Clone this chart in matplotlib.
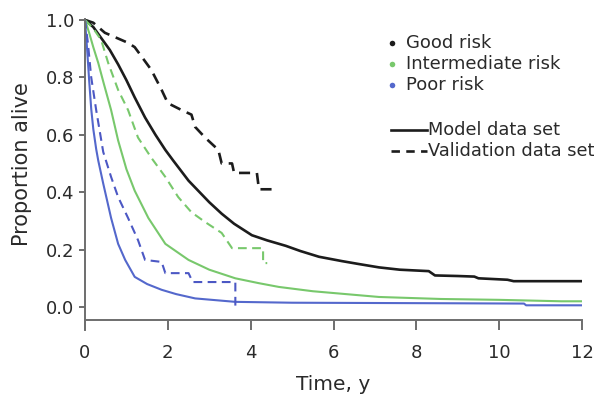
import matplotlib
matplotlib.use("Agg")
import matplotlib.pyplot as plt
from matplotlib.lines import Line2D

plt.rcParams['font.family'] = ['DejaVu Sans']

# ---- data ----
good_model_t = [0, 0.2, 0.4, 0.6, 0.8, 1.0, 1.2, 1.45, 1.7, 1.94, 2.13, 2.5, 2.8, 3.0, 3.3, 3.6,
                4.03, 4.4, 4.85, 5.2, 5.65, 6.2, 6.6, 7.1, 7.6, 8.3, 8.45, 9.0, 9.4, 9.5, 10.2,
                10.35, 12]
good_model_p = [1.0, 0.975, 0.935, 0.895, 0.845, 0.79, 0.73, 0.66, 0.60, 0.547, 0.51, 0.44, 0.395,
                0.365, 0.325, 0.29, 0.25, 0.232, 0.213, 0.195, 0.175, 0.16, 0.15, 0.138, 0.13,
                0.125, 0.11, 0.108, 0.106, 0.10, 0.095, 0.09, 0.09]

good_val_t = [0, 0.2, 0.48, 1.04, 1.2, 1.6, 1.85, 2.0, 2.33, 2.57, 2.66, 2.9, 3.22, 3.3, 3.55,
              3.6, 4.15, 4.2, 4.6]
good_val_p = [1.0, 0.99, 0.955, 0.92, 0.905, 0.826, 0.756, 0.71, 0.686, 0.67, 0.627, 0.59, 0.547,
              0.50, 0.50, 0.467, 0.467, 0.41, 0.41]

int_model_t = [0, 0.1, 0.2, 0.32, 0.45, 0.63, 0.8, 1.0, 1.2, 1.53, 1.94, 2.5, 3.0, 3.63, 4.2,
               4.68, 5.5, 6.3, 7.1, 8.6, 10, 11.5, 12]
int_model_p = [1.0, 0.955, 0.905, 0.85, 0.78, 0.686, 0.58, 0.48, 0.405, 0.31, 0.22, 0.164, 0.13,
               0.10, 0.083, 0.07, 0.055, 0.045, 0.035, 0.028, 0.025, 0.02, 0.02]

int_val_t = [0, 0.2, 0.39, 0.56, 0.8, 1.04, 1.28, 1.6, 1.94, 2.25, 2.57, 2.9, 3.3, 3.55, 4.3, 4.3, 4.4]
int_val_p = [1.0, 0.97, 0.93, 0.85, 0.756, 0.686, 0.59, 0.52, 0.453, 0.383, 0.33, 0.296, 0.258,
             0.205, 0.205, 0.153, 0.153]

poor_model_t = [0, 0.05, 0.1, 0.15, 0.2, 0.27, 0.32, 0.44, 0.63, 0.8, 0.97, 1.2, 1.5, 1.85, 2.2,
                2.66, 3.63, 5, 7, 9, 10.6, 10.65, 12]
poor_model_p = [1.0, 0.9, 0.79, 0.69, 0.62, 0.55, 0.51, 0.43, 0.31, 0.22, 0.164, 0.105, 0.08, 0.06,
                0.045, 0.03, 0.018, 0.015, 0.014, 0.013, 0.012, 0.006, 0.006]

poor_val_t = [0, 0.07, 0.15, 0.27, 0.44, 0.63, 0.8, 1.04, 1.28, 1.45, 1.85, 1.94, 2.5, 2.6, 3.63, 3.63]
poor_val_p = [1.0, 0.92, 0.8, 0.686, 0.54, 0.453, 0.383, 0.31, 0.233, 0.164, 0.157, 0.118, 0.118,
              0.087, 0.087, 0.0]

x_ticks = [0, 2, 4, 6, 8, 10, 12]
y_ticks = [0.0, 0.2, 0.4, 0.6, 0.8, 1.0]
group_labels = ['Good risk', 'Intermediate risk', 'Poor risk']
style_labels = ['Model data set', 'Validation data set']

BLACK = '#1c1c1c'
GREEN = '#78c86c'
BLUE = '#5468cc'
BLUE_D = '#4c58c4'
AX = '#6e6e6e'
TXT = '#2a2a2a'

W, H = 597, 398
fig = plt.figure(figsize=(W / 100, H / 100), dpi=100)
ax = fig.add_axes([85 / W, 1 - 330 / H, (582 - 85) / W, (330 - 19) / H])

dash = (0, (4.2, 2.6))
ax.plot(good_model_t, good_model_p, color=BLACK, lw=1.9, solid_joinstyle='round')
ax.plot(good_val_t, good_val_p, color=BLACK, lw=1.9, linestyle=dash)
ax.plot(int_model_t, int_model_p, color=GREEN, lw=1.5)
ax.plot(int_val_t, int_val_p, color=GREEN, lw=1.5, linestyle=dash)
ax.plot(poor_model_t, poor_model_p, color=BLUE, lw=1.5)
ax.plot(poor_val_t, poor_val_p, color=BLUE_D, lw=1.5, linestyle=dash)

ax.set_xlim(0, 12)
ax.set_ylim(-0.08, 1.003)
ax.spines['top'].set_visible(False)
ax.spines['right'].set_visible(False)
ax.spines['bottom'].set_position(('data', -0.045))
for s in ('left', 'bottom'):
    ax.spines[s].set_color(AX)
    ax.spines[s].set_linewidth(1.4)
ax.set_xticks(x_ticks)
ax.set_xticklabels([str(v) for v in x_ticks])
ax.set_yticks(y_ticks)
ax.set_yticklabels([f'{v:.1f}' for v in y_ticks])
ax.tick_params(axis='x', direction='out', length=7, width=1.4, color=AX, pad=10,
               labelsize=13, labelcolor=TXT)
ax.tick_params(axis='y', direction='out', length=4.5, width=1.4, color=AX, pad=3,
               labelsize=13, labelcolor=TXT)
ax.set_xlabel('Time, y', fontsize=14.5, color=TXT)
ax.set_ylabel('Proportion alive', fontsize=15, color=TXT)
ax.xaxis.set_label_coords(0.5, -(385 - 330) / 311, transform=ax.transAxes)
ax.xaxis.label.set_va('center')
ax.yaxis.set_label_coords(-(85 - 22) / 497, (330 - 164) / 311, transform=ax.transAxes)
ax.yaxis.label.set_va('center')

# ---- legend (drawn by hand to match the layout) ----
def fx(px):
    return px / W

def fy(py):
    return 1 - py / H

for lab, col, py in zip(group_labels, [BLACK, GREEN, BLUE], [43, 64, 85]):
    fig.add_artist(Line2D([fx(392)], [fy(py)], marker='o', markersize=4, color=col,
                          markeredgewidth=0, transform=fig.transFigure))
    fig.text(fx(406), fy(py), lab, fontsize=13, color=TXT, va='center', ha='left')

for lab, ls, py in zip(style_labels, ['-', (0, (3.2, 2.4))], [130, 151]):
    fig.add_artist(Line2D([fx(391), fx(427)], [fy(py), fy(py)], color=BLACK, lw=1.9,
                          linestyle=ls, transform=fig.transFigure))
    fig.text(fx(428), fy(py), lab, fontsize=12.8, color=TXT, va='center', ha='left')

fig.savefig('out.png', dpi=100)
